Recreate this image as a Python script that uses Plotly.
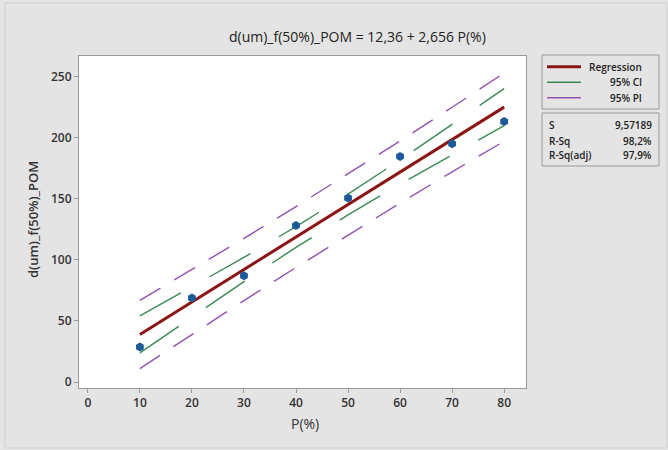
import plotly.graph_objects as go

# ---- data ----
P = [10, 20, 30, 40, 50, 60, 70, 80]
D = [28.7, 68.6, 86.9, 127.9, 150.5, 184.4, 194.8, 213.1]
fit = [38.9, 65.5, 92.0, 118.6, 145.2, 171.7, 198.3, 224.8]
ci_upper = [54.0, 77.8, 101.9, 127.1, 153.7, 181.6, 210.6, 239.9]
ci_lower = [23.8, 53.2, 82.1, 110.1, 136.7, 161.8, 186.0, 209.7]
pi_upper = [66.8, 91.9, 117.4, 143.5, 170.1, 197.1, 224.7, 252.7]
pi_lower = [11.0, 39.1, 66.6, 93.7, 120.3, 146.3, 171.9, 196.9]
x_ticks = [0, 10, 20, 30, 40, 50, 60, 70, 80]
y_ticks = [0, 50, 100, 150, 200, 250]
legend_items = ["Regression", "95% CI", "95% PI"]
stat_labels = ["S", "R-Sq", "R-Sq(adj)"]
stat_values = ["9,57189", "98,2%", "97,9%"]
title_text = "d(um)_f(50%)_POM = 12,36 + 2,656 P(%)"

RED = "#8b1414"
GREEN = "#3a8a52"
PURPLE = "#9350b0"
BLUE = "#1d5a9a"
GRID = "#9a9a9a"
TXT = "#333333"
FONT = "Open Sans"

W, H = 668, 450
ML, MR, MT, MB = 79, 142, 56, 62
PW = W - ML - MR
PH = H - MT - MB


def px(x):
    return (x - ML) / PW


def py(y):
    return (H - MB - y) / PH


fig = go.Figure()
fig.add_trace(go.Scatter(x=P, y=pi_upper, mode="lines",
                         line=dict(color=PURPLE, width=1.4, dash="24px,16px"),
                         showlegend=False, hoverinfo="skip"))
fig.add_trace(go.Scatter(x=P, y=pi_lower, mode="lines",
                         line=dict(color=PURPLE, width=1.4, dash="24px,16px"),
                         showlegend=False, hoverinfo="skip"))
fig.add_trace(go.Scatter(x=P, y=ci_upper, mode="lines",
                         line=dict(color=GREEN, width=1.4, dash="47px,33px"),
                         showlegend=False, hoverinfo="skip"))
fig.add_trace(go.Scatter(x=P, y=ci_lower, mode="lines",
                         line=dict(color=GREEN, width=1.4, dash="47px,33px"),
                         showlegend=False, hoverinfo="skip"))
fig.add_trace(go.Scatter(x=P, y=fit, mode="lines",
                         line=dict(color=RED, width=3),
                         showlegend=False))
fig.add_trace(go.Scatter(x=P, y=D, mode="markers",
                         marker=dict(color=BLUE, size=9, symbol="hexagon"),
                         showlegend=False))

axis_common = dict(
    showgrid=False, zeroline=False, showline=True, linecolor=GRID, linewidth=1,
    mirror=True, ticks="outside", ticklen=4, tickcolor=GRID,
    tickfont=dict(family=FONT, size=12, color=TXT, weight=600),
)
fig.update_xaxes(range=[-1.7, 84.2], tickvals=x_ticks, **axis_common)
fig.update_yaxes(range=[-4.9, 266.6], tickvals=y_ticks, **axis_common)

shapes = []
annotations = []

# title and axis titles
annotations.append(dict(text=title_text, xref="paper", yref="paper",
                        x=px(357), y=py(37), xanchor="center", yanchor="middle",
                        showarrow=False, font=dict(family=FONT, size=14, color="#222222")))
annotations.append(dict(text="d(um)_f(50%)_POM", xref="paper", yref="paper",
                        x=px(33), y=py(220), xanchor="center", yanchor="middle",
                        textangle=-90, showarrow=False,
                        font=dict(family=FONT, size=13, color=TXT, weight=600)))
annotations.append(dict(text="P(%)", xref="paper", yref="paper",
                        x=px(305), y=py(423), xanchor="center", yanchor="middle",
                        showarrow=False, font=dict(family=FONT, size=14, color=TXT)))

# outer frame
shapes.append(dict(type="rect", xref="paper", yref="paper",
                   x0=px(5), x1=px(667), y0=py(448), y1=py(3),
                   line=dict(color="#cfcfcf", width=1)))

# legend box
shapes.append(dict(type="rect", xref="paper", yref="paper",
                   x0=px(542), x1=px(659), y0=py(109), y1=py(55),
                   line=dict(color=GRID, width=1)))
leg_y = [66.7, 82.3, 97.7]
leg_style = [(RED, 3), (GREEN, 1.4), (PURPLE, 1.4)]
for name, yy, (c, w) in zip(legend_items, leg_y, leg_style):
    shapes.append(dict(type="line", xref="paper", yref="paper",
                       x0=px(547), x1=px(581), y0=py(yy), y1=py(yy),
                       line=dict(color=c, width=w)))
    annotations.append(dict(text=name, xref="paper", yref="paper",
                            x=px(644), y=py(yy), xanchor="right", yanchor="middle",
                            showarrow=False,
                            font=dict(family=FONT, size=10, color="#222222", weight=600)))

# stats box
shapes.append(dict(type="rect", xref="paper", yref="paper",
                   x0=px(542), x1=px(659), y0=py(166), y1=py(113),
                   line=dict(color=GRID, width=1)))
st_y = [125, 140.5, 155]
for lab, val, yy in zip(stat_labels, stat_values, st_y):
    annotations.append(dict(text=lab, xref="paper", yref="paper",
                            x=px(547), y=py(yy), xanchor="left", yanchor="middle",
                            showarrow=False,
                            font=dict(family=FONT, size=10, color="#222222", weight=600)))
    annotations.append(dict(text=val, xref="paper", yref="paper",
                            x=px(654), y=py(yy), xanchor="right", yanchor="middle",
                            showarrow=False,
                            font=dict(family=FONT, size=10, color="#222222", weight=600)))

fig.update_layout(
    width=W, height=H,
    margin=dict(l=ML, r=MR, t=MT, b=MB),
    paper_bgcolor="#e4e4e4",
    plot_bgcolor="#ffffff",
    showlegend=False,
    shapes=shapes,
    annotations=annotations,
    font=dict(family=FONT, color=TXT),
)

fig.write_html("out.html",
               config={"displayModeBar": False},
               post_script="document.body.style.margin='0';document.body.style.padding='0';")
